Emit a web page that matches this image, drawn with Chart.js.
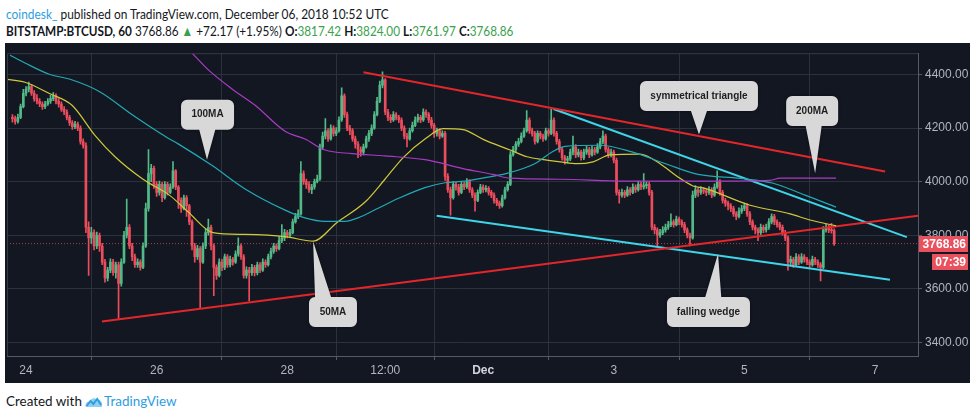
<!DOCTYPE html>
<html>
<head>
<meta charset="utf-8">
<script src="https://cdn.jsdelivr.net/npm/chart.js@4.4.0/dist/chart.umd.min.js"></script>
<style>
  body { margin: 0; width: 975px; height: 418px; background: #fff; position: relative; overflow: hidden; font-family: Lato, "Liberation Sans", sans-serif; }
  #h1, #h2, #foot { transform-origin: 0 50%; }
  #h1 { position: absolute; left: 6px; top: 5px; font-size: 14px; color: #131722; white-space: nowrap; transform: scaleX(0.85); }
  #h1 .user { color: #2f9de0; }
  #h2 { position: absolute; left: 6px; top: 22px; font-size: 14px; color: #131722; white-space: nowrap; transform: scaleX(0.84); }
  .g { color: #37a24b; }
  #panel { position: absolute; left: 5px; top: 43px; width: 965px; height: 340px; background: #131722; }
  #foot { position: absolute; left: 6px; top: 392px; font-size: 14px; color: #131722; white-space: nowrap; transform: scaleX(0.96); }
  #foot .tv { color: #2f9de0; }
  #foot svg { vertical-align: -2px; margin: 0 1px 0 3px; }
</style>
</head>
<body>
<div id="h1"><span class="user">coindesk_</span> published on TradingView.com, December 06, 2018 10:52 UTC</div>
<div id="h2"><b>BITSTAMP:BTCUSD, 60</b> 3768.86 <span class="g">▲</span> +72.17 (+1.95%) <b>O:</b><span class="g">3817.42</span> <b>H:</b><span class="g">3824.00</span> <b>L:</b><span class="g">3761.97</span> <b>C:</b><span class="g">3768.86</span></div>
<div id="panel"><canvas id="chart" width="965" height="340"></canvas></div>
<div id="foot">Created with<svg width="19" height="13" viewBox="0 0 19 13"><path d="M1 12 C0 8 3 6 5 7 C6 3 11 2 13 5 C16 4 19 7 18 12 Z" fill="#8fd0f2"/><path d="M2 11 L6 6 L9 9 L13 4 L17 10" fill="none" stroke="#2f9de0" stroke-width="2"/></svg><span class="tv">TradingView</span></div>

<script>
// hourly candles, first one is Nov 23 19:00 (hours counted from Nov 24 00:00)
const FIRST_HOUR = -5;

const OPENS = [
  4240,4235,4225,4240,4280,4330,
  4345,4355,4330,4310,4300,4290,4280,4290,4300,4310,
  4320,4300,4290,4270,4260,4240,4220,4205,4215,4200,
  4150,4135,3830,3790,3810,3760,3800,3760,3700,3640,
  3670,3700,3660,3690,3620,3700,3800,3830,3760,3720,
  3690,3700,3680,3760,3900,4030,4050,3990,3960,3990,
  3940,3990,3960,3980,4040,3980,3930,3900,3940,3910,
  3850,3760,3720,3750,3700,3760,3810,3830,3760,3680,
  3650,3700,3680,3720,3690,3710,3700,3730,3760,3720,
  3650,3670,3660,3680,3660,3690,3670,3700,3690,3720,
  3740,3760,3750,3780,3790,3810,3800,3810,3850,3870,
  3880,4030,4000,3990,3970,3980,4000,4010,4130,4170,
  4190,4160,4200,4180,4190,4230,4320,4250,4200,4190,
  4160,4140,4120,4110,4130,4160,4180,4200,4250,4300,
  4360,4380,4260,4240,4230,4250,4240,4230,4200,4170,
  4160,4190,4210,4230,4240,4230,4260,4250,4230,4210,
  4180,4190,4170,4180,4020,3970,3940,3990,3980,3960,
  3990,3980,4000,3970,3950,3930,3960,3980,3970,3975,
  3960,3950,3930,3920,3910,3940,3970,3990,4100,4120,
  4140,4150,4170,4190,4230,4190,4180,4150,4180,4170,
  4160,4190,4180,4230,4180,4150,4120,4090,4080,4085,
  4110,4130,4100,4110,4090,4110,4120,4100,4120,4110,
  4130,4150,4170,4120,4100,4110,4080,3960,3950,3960,
  3950,3970,3960,3980,3970,3990,3980,3985,3990,3960,
  3830,3820,3800,3810,3820,3830,3840,3850,3840,3860,
  3850,3840,3820,3800,3790,3950,3970,3960,3970,3965,
  3960,3970,3950,3980,4000,3960,3930,3920,3910,3900,
  3880,3870,3890,3900,3910,3880,3850,3830,3820,3810,
  3830,3820,3830,3850,3870,3850,3840,3830,3810,3790,
  3700,3710,3690,3720,3700,3720,3710,3700,3690,3710,
  3700,3690,3680,3820,3830,3820,3817.42
];
const HIGHS = [
  4250,4245,4252,4290,4345,4355,
  4372,4362,4340,4325,4310,4298,4300,4310,4322,4332,
  4328,4310,4298,4280,4268,4248,4228,4225,4222,4208,
  4160,4145,3850,3830,3820,3812,3808,3770,3710,3680,
  3712,3710,3700,3700,3712,3815,3935,3840,3770,3730,
  3712,3708,3772,3920,4120,4065,4058,4000,4002,3998,
  4000,3998,3992,4075,4045,3985,3940,3950,3948,3915,
  3858,3770,3762,3758,3772,3822,3860,3838,3768,3690,
  3712,3710,3730,3728,3722,3718,3742,3790,3768,3728,
  3682,3680,3692,3688,3700,3698,3712,3708,3730,3752,
  3770,3768,3795,3840,3822,3818,3822,3860,3882,3895,
  4075,4040,4010,4000,3990,4010,4025,4140,4185,4235,
  4198,4212,4208,4202,4242,4350,4328,4260,4210,4198,
  4170,4150,4130,4140,4170,4192,4212,4262,4315,4375,
  4410,4385,4270,4250,4262,4258,4248,4238,4208,4180,
  4200,4222,4242,4252,4248,4272,4268,4258,4240,4218,
  4200,4198,4190,4188,4030,3980,4000,3998,3990,4000,
  3998,4012,4008,3978,3958,3970,3990,3988,3985,3982,
  3968,3958,3938,3928,3950,3980,4000,4112,4132,4150,
  4162,4182,4200,4265,4238,4200,4188,4190,4188,4178,
  4200,4198,4270,4238,4188,4158,4128,4098,4095,4122,
  4170,4138,4122,4118,4122,4132,4128,4132,4128,4142,
  4162,4190,4178,4128,4122,4118,4088,3970,3972,3968,
  3982,3978,3992,3988,4002,3998,4030,4000,3998,3968,
  3840,3828,3822,3832,3842,3852,3880,3858,3872,3868,
  3858,3848,3828,3808,3965,3985,3978,3982,3978,3972,
  3982,3978,3992,4040,4008,3968,3938,3928,3918,3908,
  3888,3902,3912,3920,3918,3888,3858,3838,3828,3842,
  3838,3842,3862,3880,3878,3858,3848,3838,3818,3798,
  3722,3718,3732,3728,3732,3728,3718,3708,3722,3718,
  3708,3698,3832,3842,3838,3845,3824
];
const LOWS = [
  4222,4215,4218,4235,4275,4320,
  4335,4322,4300,4290,4280,4270,4272,4285,4292,4302,
  4290,4278,4262,4250,4230,4210,4195,4198,4190,4140,
  4125,3810,3650,3770,3745,3750,3740,3690,3625,3630,
  3660,3650,3640,3490,3610,3695,3790,3750,3705,3680,
  3680,3670,3675,3755,3890,4000,3975,3945,3950,3925,
  3935,3950,3955,3975,3970,3900,3885,3895,3870,3840,
  3745,3700,3710,3530,3695,3750,3800,3745,3575,3635,
  3645,3668,3672,3680,3682,3688,3695,3722,3710,3640,
  3640,3555,3650,3648,3652,3660,3665,3680,3685,3712,
  3732,3740,3745,3772,3780,3790,3795,3805,3845,3862,
  3875,3990,3975,3960,3955,3972,3995,4005,4120,4160,
  4150,4155,4170,4172,4185,4225,4240,4190,4175,4150,
  4125,4090,4095,4100,4125,4150,4172,4195,4245,4295,
  4350,4250,4228,4220,4225,4230,4220,4190,4160,4130,
  4155,4185,4205,4222,4220,4225,4240,4220,4200,4165,
  4170,4160,4165,4005,3960,3875,3935,3968,3950,3955,
  3970,3975,3960,3940,3890,3925,3955,3960,3962,3950,
  3940,3920,3910,3900,3905,3935,3965,3985,4095,4112,
  4132,4145,4165,4185,4180,4170,4140,4145,4160,4150,
  4155,4170,4175,4170,4140,4110,4080,4065,4070,4078,
  4100,4090,4092,4080,4082,4102,4090,4095,4100,4105,
  4122,4142,4110,4090,4092,4070,3950,3920,3942,3940,
  3945,3950,3955,3960,3965,3970,3972,3975,3950,3820,
  3805,3760,3792,3802,3812,3822,3832,3830,3835,3840,
  3830,3810,3790,3760,3785,3940,3945,3952,3955,3948,
  3952,3940,3945,3975,3950,3920,3908,3895,3888,3870,
  3858,3865,3882,3892,3870,3840,3820,3805,3780,3802,
  3810,3812,3822,3842,3840,3830,3820,3800,3780,3670,
  3690,3680,3685,3690,3695,3700,3690,3680,3685,3690,
  3680,3630,3675,3812,3810,3808,3761.97
];
const CLOSES = [
  4235,4225,4240,4280,4330,4345,
  4355,4330,4310,4300,4290,4280,4290,4300,4310,4320,
  4300,4290,4270,4260,4240,4220,4205,4215,4200,4150,
  4135,3830,3790,3810,3760,3800,3760,3700,3640,3670,
  3700,3660,3690,3620,3700,3800,3830,3760,3720,3690,
  3700,3680,3760,3900,4030,4050,3990,3960,3990,3940,
  3990,3960,3980,4040,3980,3930,3900,3940,3910,3850,
  3760,3720,3750,3700,3760,3810,3830,3760,3680,3650,
  3700,3680,3720,3690,3710,3700,3730,3760,3720,3650,
  3670,3660,3680,3660,3690,3670,3700,3690,3720,3740,
  3760,3750,3780,3790,3810,3800,3810,3850,3870,3880,
  4030,4000,3990,3970,3980,4000,4010,4130,4170,4190,
  4160,4200,4180,4190,4230,4320,4250,4200,4190,4160,
  4140,4120,4110,4130,4160,4180,4200,4250,4300,4360,
  4380,4260,4240,4230,4250,4240,4230,4200,4170,4160,
  4190,4210,4230,4240,4230,4260,4250,4230,4210,4180,
  4190,4170,4180,4020,3970,3940,3990,3980,3960,3990,
  3980,4000,3970,3950,3930,3960,3980,3970,3975,3960,
  3950,3930,3920,3910,3940,3970,3990,4100,4120,4140,
  4150,4170,4190,4230,4190,4180,4150,4180,4170,4160,
  4190,4180,4230,4180,4150,4120,4090,4080,4085,4110,
  4130,4100,4110,4090,4110,4120,4100,4120,4110,4130,
  4150,4170,4120,4100,4110,4080,3960,3950,3960,3950,
  3970,3960,3980,3970,3990,3980,3985,3990,3960,3830,
  3820,3800,3810,3820,3830,3840,3850,3840,3860,3850,
  3840,3820,3800,3790,3950,3970,3960,3970,3965,3960,
  3970,3950,3980,4000,3960,3930,3920,3910,3900,3880,
  3870,3890,3900,3910,3880,3850,3830,3820,3810,3830,
  3820,3830,3850,3870,3850,3840,3830,3810,3790,3700,
  3710,3690,3720,3700,3720,3710,3700,3690,3710,3700,
  3690,3680,3820,3830,3820,3817.42,3768.86
];

// moving averages (hour, price)
const MA50_HOURS = [-7,-0.4,8.8,16.9,25.4,32.7,43,52.9,59.5,68.7,80.5,95.2,105.5,114.3,124.6,131.9,138.6,146.6,153.3,160.6,168,177.9,184.1,190,196.3,202.5,208.4,214.6,225.6,233,239.2,245.1,249.5,266.1,280.8,288.1,297.7];
const MA50 = [4382,4371,4328,4285,4172,4093,4009,3948,3888,3810,3803,3795,3778,3848,3924,4009,4090,4159,4198,4194,4158,4118,4093,4082,4074,4067,4074,4100,4103,4067,4020,3984,3975,3912,3880,3857,3835];
const MA100_HOURS = [-5.9,-0.4,8.8,16.2,27.2,39.3,51.8,55.9,68.4,80.5,95.2,102.5,109.9,117.2,122,129.4,136.7,146.6,154,161.3,171.3,177.1,187.1,193.3,198.1,211,222.7,234.8,247,262.4,274.2,286.3,297.7];
const MA100 = [4472,4443,4400,4382,4335,4248,4165,4141,4060,3973,3894,3865,3852,3852,3865,3901,3937,3978,3996,4002,4020,4032,4068,4111,4132,4136,4111,4068,4027,4012,3995,3950,3905];
const MA200_HOURS = [61,66.9,75.7,84.2,95.2,102.5,109.9,119.8,131.9,146.6,160.6,171.6,177.9,196.3,220.9,251.4,273.4,277.1,297.7];
const MA200 = [4480,4418,4346,4285,4188,4159,4118,4105,4096,4082,4049,4027,4013,4009,4002,4002,4005,4013,4013];

// drawn trend lines (hour, price)
const RED_LOW_HOURS = [27.9, 327.8];
const RED_LOW = [3478, 3873];
const RED_HIGH_HOURS = [124, 315.7];
const RED_HIGH = [4408, 4038];
const CYAN_HIGH_HOURS = [193.8, 323.7];
const CYAN_HIGH = [4271, 3793];
const CYAN_LOW_HOURS = [150.9, 317.5];
const CYAN_LOW = [3873, 3634];

const X_TICK_HOURS = [0, 48, 96, 132, 168, 216, 264, 312];
const X_TICK_LABELS = ['24', '26', '28', '12:00', 'Dec', '3', '5', '7'];
const Y_TICKS = [3400, 3600, 3800, 4000, 4200, 4400];
const LAST_PRICE = 3768.86;
const COUNTDOWN = '07:39';

// callouts: box centre and pointer tip in (hour, price), box width in px
const CALLOUTS = [
  { text: '100MA', x: 66.7, y: 4250, tipX: 66.5, tipY: 4082, w: 53 },
  { text: '50MA', x: 112.8, y: 3514, tipX: 105.5, tipY: 3778, w: 48 },
  { text: 'symmetrical triangle', x: 247.3, y: 4320, tipX: 247.3, tipY: 4176, w: 118 },
  { text: '200MA', x: 288.9, y: 4264, tipX: 290, tipY: 4031, w: 52 },
  { text: 'falling wedge', x: 250.8, y: 3514, tipX: 254.3, tipY: 3731, w: 83 },
];

if ([OPENS, HIGHS, LOWS].some(a => a.length !== CLOSES.length)) throw new Error('candle arrays differ in length');

const GREEN = '#53b987';
const RED = '#eb4d5c';
const GRID = '#2d313c';
const TEXT = '#b2b5be';

const candleColors = CLOSES.map((c, i) => c >= OPENS[i] ? GREEN : RED);
const pts = (xs, ys) => xs.map((x, i) => ({ x, y: ys[i] }));

function lineSet(xs, ys, color, width, extra = {}) {
  return { type: 'line', data: pts(xs, ys), borderColor: color, borderWidth: width, pointRadius: 0, order: 1, ...extra };
}

function calloutPath(ctx, x, y, w, h, r, tx, ty) {
  const cx = x + w / 2;
  const bx = Math.max(x + r + 8, Math.min(x + w - r - 8, cx + (tx - cx) * 0.5));
  ctx.beginPath();
  ctx.moveTo(x + r, y);
  if (ty < y) { ctx.lineTo(bx - 8, y); ctx.lineTo(tx, ty); ctx.lineTo(bx + 8, y); }
  ctx.lineTo(x + w - r, y);
  ctx.arcTo(x + w, y, x + w, y + r, r);
  ctx.lineTo(x + w, y + h - r);
  ctx.arcTo(x + w, y + h, x + w - r, y + h, r);
  if (ty > y + h) { ctx.lineTo(bx + 8, y + h); ctx.lineTo(tx, ty); ctx.lineTo(bx - 8, y + h); }
  ctx.lineTo(x + r, y + h);
  ctx.arcTo(x, y + h, x, y + h - r, r);
  ctx.lineTo(x, y + r);
  ctx.arcTo(x, y, x + r, y, r);
  ctx.closePath();
}

const calloutPlugin = {
  id: 'callouts',
  afterDatasetsDraw(chart) {
    const { ctx, scales: { x, y } } = chart;
    ctx.save();
    CALLOUTS.forEach(c => {
      const cx = x.getPixelForValue(c.x), cy = y.getPixelForValue(c.y);
      const tx = x.getPixelForValue(c.tipX), ty = y.getPixelForValue(c.tipY);
      const h = 30;
      calloutPath(ctx, cx - c.w / 2, cy - h / 2, c.w, h, 6, tx, ty);
      ctx.shadowColor = 'rgba(0,0,0,0.5)';
      ctx.shadowBlur = 3;
      ctx.fillStyle = '#d8d8d8';
      ctx.fill();
      ctx.shadowBlur = 0;
      ctx.fillStyle = '#1e1e1e';
      ctx.font = 'bold 10px "Liberation Sans", Arial, sans-serif';
      ctx.textAlign = 'center';
      ctx.textBaseline = 'middle';
      ctx.fillText(c.text, cx, cy);
    });
    ctx.restore();
  }
};

const tagPlugin = {
  id: 'priceTags',
  afterDraw(chart) {
    const { ctx, chartArea, scales: { y } } = chart;
    const py = Math.round(y.getPixelForValue(LAST_PRICE));
    const r = chartArea.right;
    ctx.save();
    ctx.fillStyle = '#e9515e';
    ctx.fillRect(r + 1, py - 8, 49, 16);
    ctx.fillRect(r + 14, py + 10, 36, 16);
    ctx.fillStyle = '#fff';
    ctx.font = 'bold 12px "Liberation Sans", Arial, sans-serif';
    ctx.textAlign = 'right';
    ctx.textBaseline = 'middle';
    ctx.fillText(LAST_PRICE.toFixed(2), r + 48, py + 1);
    ctx.fillText(COUNTDOWN, r + 48, py + 19);
    // plot frame top / left
    ctx.strokeStyle = '#363a45';
    ctx.lineWidth = 1;
    ctx.beginPath();
    ctx.moveTo(chartArea.left + 0.5, chartArea.bottom);
    ctx.lineTo(chartArea.left + 0.5, chartArea.top + 0.5);
    ctx.lineTo(chartArea.right, chartArea.top + 0.5);
    ctx.stroke();
    ctx.restore();
  }
};

new Chart(document.getElementById('chart'), {
  type: 'bar',
  data: {
    datasets: [
      {
        label: 'wick',
        data: CLOSES.map((c, i) => ({ x: FIRST_HOUR + i, y: [LOWS[i], HIGHS[i]] })),
        backgroundColor: candleColors,
        barThickness: 1,
        grouped: false,
        order: 3,
      },
      {
        label: 'body',
        data: CLOSES.map((c, i) => ({ x: FIRST_HOUR + i, y: [OPENS[i], c] })),
        backgroundColor: candleColors,
        barThickness: 2,
        minBarLength: 1,
        grouped: false,
        order: 2,
      },
      lineSet([-7, 327.8], [LAST_PRICE, LAST_PRICE], 'rgba(233,81,94,0.7)', 1, { borderDash: [1, 2], order: 4 }),
      lineSet(MA200_HOURS, MA200, '#a93bc4', 1.2, { cubicInterpolationMode: 'monotone' }),
      lineSet(MA100_HOURS, MA100, '#22a9b5', 1.2, { cubicInterpolationMode: 'monotone' }),
      lineSet(MA50_HOURS, MA50, '#cfc93a', 1.2, { cubicInterpolationMode: 'monotone' }),
      lineSet(RED_LOW_HOURS, RED_LOW, '#e3262b', 2),
      lineSet(RED_HIGH_HOURS, RED_HIGH, '#e3262b', 2),
      lineSet(CYAN_HIGH_HOURS, CYAN_HIGH, '#3fd5e8', 2),
      lineSet(CYAN_LOW_HOURS, CYAN_LOW, '#3fd5e8', 2),
    ]
  },
  options: {
    responsive: false,
    animation: false,
    devicePixelRatio: 1,
    layout: { padding: { left: 2, right: 0, top: 0, bottom: 0 } },
    plugins: { legend: { display: false }, tooltip: { enabled: false } },
    scales: {
      x: {
        type: 'linear', min: -7, max: 327.8, offset: false,
        afterBuildTicks: s => { s.ticks = X_TICK_HOURS.map(v => ({ value: v })); },
        afterFit: s => { s.height = 27; },
        ticks: {
          autoSkip: false, maxRotation: 0, padding: 3,
          callback: v => X_TICK_LABELS[X_TICK_HOURS.indexOf(v)],
          color: ctx => ctx.tick && ctx.tick.label === 'Dec' ? '#d1d4dc' : TEXT,
          font: ctx => ({ family: '"Liberation Sans", Arial, sans-serif', size: 12, weight: ctx.tick && ctx.tick.label === 'Dec' ? 'bold' : 'normal' }),
        },
        grid: { color: GRID, tickLength: 4, tickColor: '#555a66' },
        border: { color: '#555a66' },
      },
      y: {
        position: 'right', min: 3349.5, max: 4479.4,
        afterBuildTicks: s => { s.ticks = Y_TICKS.map(v => ({ value: v })); },
        afterFit: s => { s.width = 52; },
        ticks: {
          padding: 3, color: TEXT,
          font: { family: '"Liberation Sans", Arial, sans-serif', size: 12 },
          callback: v => v.toFixed(2),
        },
        grid: { color: GRID, tickLength: 4, tickColor: '#555a66' },
        border: { color: '#555a66' },
      }
    }
  },
  plugins: [calloutPlugin, tagPlugin]
});
</script>
</body>
</html>
